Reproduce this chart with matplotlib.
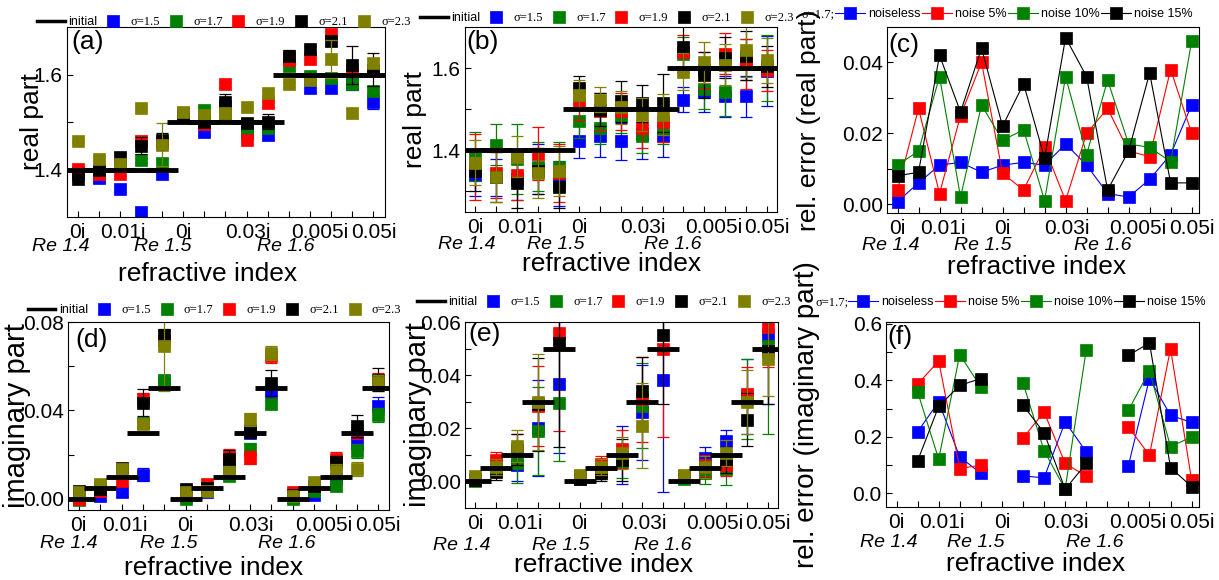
import numpy as np
import matplotlib.pyplot as plt

plt.rcParams['font.family'] = ['Liberation Sans', 'DejaVu Sans']
plt.rcParams['axes.linewidth'] = 0.8
plt.rcParams['legend.numpoints'] = 1

nan = np.nan
W, H = 1219, 580

# x positions: 3 real parts x 5 imaginary parts
x = list(range(1, 16))
xlabels = ['0i', '0.01i', '0i', '0.03i', '0.005i', '0.05i']
xlabel_pos = [1, 3.15, 6, 9.05, 12.45, 15]
re_labels = ['Re 1.4', 'Re 1.5', 'Re 1.6']

init_real = [1.4, 1.4, 1.4, 1.4, 1.4, 1.5, 1.5, 1.5, 1.5, 1.5, 1.6, 1.6, 1.6, 1.6, 1.6]
init_imag = [0, 0.005, 0.01, 0.03, 0.05, 0, 0.005, 0.01, 0.03, 0.05, 0, 0.005, 0.01, 0.03, 0.05]

sigma_names = ['σ=1.5', 'σ=1.7', 'σ=1.9', 'σ=2.1', 'σ=2.3']
sigma_colors = ['#0000ff', '#008000', '#ff0000', '#000000', '#808000']
noise_names = ['noiseless', 'noise 5%', 'noise 10%', 'noise 15%']
noise_colors = ['#0000ff', '#ff0000', '#008000', '#000000']

# (a) real part, small error bars
a_15 = [1.390, 1.382, 1.359, 1.310, 1.391, 1.511, 1.479, 1.533, 1.476, 1.472, 1.635, 1.572, 1.572, 1.580, 1.543]
a_17 = [1.395, 1.400, 1.410, 1.419, 1.413, 1.520, 1.526, 1.515, 1.483, 1.487, 1.618, 1.596, 1.593, 1.579, 1.565]
a_19 = [1.401, 1.390, 1.391, 1.460, 1.455, 1.520, 1.495, 1.579, 1.462, 1.540, 1.630, 1.632, 1.685, 1.610, 1.607]
a_21 = [1.380, 1.398, 1.426, 1.450, 1.462, 1.510, 1.500, 1.543, 1.497, 1.501, 1.640, 1.653, 1.671, 1.621, 1.610]
a_23 = [1.460, 1.423, 1.412, 1.530, 1.452, 1.522, 1.515, 1.518, 1.531, 1.561, 1.579, 1.589, 1.632, 1.518, 1.625]
a_15e = [0.005, 0.008, 0.006, 0.004, 0.006, 0.005, 0.006, 0.008, 0.006, 0.010, 0.012, 0.008, 0.008, 0.012, 0.015]
a_17e = [0.004, 0.005, 0.005, 0.006, 0.010, 0.005, 0.006, 0.006, 0.008, 0.008, 0.010, 0.008, 0.006, 0.010, 0.008]
a_19e = [0.004, 0.006, 0.004, 0.010, 0.012, 0.006, 0.005, 0.006, 0.006, 0.008, 0.010, 0.010, 0.006, 0.012, 0.010]
a_21e = [0.005, 0.008, 0.008, 0.018, 0.015, 0.004, 0.006, 0.015, 0.010, 0.015, 0.012, 0.008, 0.010, 0.040, 0.035]
a_23e = [0.003, 0.006, 0.006, 0.004, 0.045, 0.004, 0.006, 0.008, 0.005, 0.006, 0.005, 0.006, 0.040, 0.010, 0.008]

# (b) real part, large error bars
b_15 = [1.340, 1.335, 1.330, 1.355, 1.320, 1.422, 1.434, 1.422, 1.440, 1.434, 1.523, 1.543, 1.531, 1.531, 1.593]
b_17 = [1.385, 1.414, 1.380, 1.360, 1.360, 1.471, 1.455, 1.483, 1.434, 1.455, 1.635, 1.550, 1.543, 1.620, 1.600]
b_19 = [1.360, 1.345, 1.340, 1.392, 1.345, 1.515, 1.495, 1.495, 1.455, 1.470, 1.640, 1.595, 1.635, 1.610, 1.595]
b_21 = [1.350, 1.335, 1.320, 1.350, 1.310, 1.552, 1.499, 1.519, 1.515, 1.515, 1.651, 1.583, 1.625, 1.630, 1.605]
b_23 = [1.370, 1.335, 1.385, 1.345, 1.350, 1.535, 1.523, 1.505, 1.487, 1.487, 1.591, 1.614, 1.608, 1.643, 1.619]
b_15e = [0.050, 0.045, 0.050, 0.060, 0.055, 0.040, 0.050, 0.045, 0.060, 0.050, 0.030, 0.050, 0.050, 0.050, 0.085]
b_17e = [0.060, 0.050, 0.085, 0.060, 0.060, 0.040, 0.040, 0.040, 0.040, 0.040, 0.040, 0.050, 0.060, 0.050, 0.080]
b_19e = [0.080, 0.060, 0.060, 0.065, 0.070, 0.040, 0.045, 0.045, 0.050, 0.050, 0.040, 0.045, 0.050, 0.060, 0.050]
b_21e = [0.050, 0.060, 0.060, 0.055, 0.050, 0.030, 0.040, 0.050, 0.045, 0.070, 0.060, 0.055, 0.050, 0.060, 0.050]
b_23e = [0.055, 0.060, 0.050, 0.060, 0.060, 0.035, 0.030, 0.040, 0.040, 0.050, 0.045, 0.050, 0.050, 0.065, 0.055]

# (c) relative error of real part
c_0 = [0.0007, 0.006, 0.011, 0.0118, 0.009, 0.011, 0.0118, 0.011, 0.017, 0.011, 0.003, 0.002, 0.007, 0.014, 0.028]
c_5 = [0.004, 0.027, 0.003, 0.025, 0.040, 0.0087, 0.004, 0.016, 0.001, 0.020, 0.027, 0.015, 0.0134, 0.038, 0.020]
c_10 = [0.011, 0.015, 0.036, 0.002, 0.028, 0.018, 0.021, 0.001, 0.036, 0.014, 0.035, 0.017, 0.016, 0.012, 0.046]
c_15 = [0.008, 0.009, 0.042, 0.026, 0.044, 0.022, 0.034, 0.013, 0.047, 0.036, 0.004, 0.015, 0.037, 0.006, 0.006]

# (d) imaginary part, small error bars
d_15 = [0.001, 0.0015, 0.0033, 0.011, 0.0525, 0.0015, 0.003, 0.015, 0.030, 0.0487, 0.001, 0.002, 0.009, 0.0255, 0.042]
d_17 = [-0.0007, 0.005, 0.012, 0.0345, 0.054, 0.0, 0.005, 0.0105, 0.0225, 0.0427, 0.0, 0.0037, 0.006, 0.0217, 0.038]
d_19 = [0.0, 0.0037, 0.008, 0.045, 0.072, 0.0037, 0.0067, 0.0195, 0.0187, 0.0645, 0.003, 0.006, 0.018, 0.031, 0.053]
d_21 = [0.0037, 0.0045, 0.014, 0.0435, 0.074, 0.0045, 0.005, 0.018, 0.0307, 0.0525, 0.002, 0.006, 0.0165, 0.033, 0.054]
d_23 = [0.003, 0.0067, 0.0135, 0.034, 0.069, 0.003, 0.0037, 0.012, 0.036, 0.066, 0.0015, 0.0075, 0.0127, 0.0135, 0.053]
d_15e = [0.001, 0.002, 0.002, 0.003, 0.002, 0.001, 0.002, 0.003, 0.002, 0.003, 0.001, 0.002, 0.002, 0.003, 0.004]
d_17e = [0.001, 0.002, 0.002, 0.002, 0.002, 0.001, 0.002, 0.002, 0.003, 0.002, 0.001, 0.002, 0.002, 0.003, 0.003]
d_19e = [0.001, 0.002, 0.002, 0.003, 0.004, 0.001, 0.001, 0.003, 0.003, 0.003, 0.001, 0.002, 0.003, 0.004, 0.004]
d_21e = [0.001, 0.002, 0.002, 0.006, 0.003, 0.001, 0.002, 0.004, 0.003, 0.006, 0.001, 0.002, 0.003, 0.005, 0.005]
d_23e = [0.001, 0.002, 0.002, 0.002, 0.020, 0.001, 0.002, 0.003, 0.003, 0.003, 0.001, 0.002, 0.003, 0.003, 0.003]

# (e) imaginary part, large error bars
e_15 = [0.0005, 0.006, 0.006, 0.020, 0.0366, 0.002, 0.004, 0.010, 0.026, 0.038, 0.002, 0.0088, 0.0154, 0.032, 0.055]
e_17 = [0.0, 0.0048, 0.007, 0.019, 0.0297, 0.001, 0.004, 0.0072, 0.0285, 0.066, 0.001, 0.003, 0.0048, 0.031, 0.051]
e_19 = [0.001, 0.0079, 0.012, 0.0285, 0.056, 0.002, 0.0066, 0.0122, 0.031, 0.0497, 0.002, 0.006, 0.006, 0.0329, 0.058]
e_21 = [0.0005, 0.0035, 0.012, 0.029, 0.052, 0.001, 0.003, 0.008, 0.034, 0.055, 0.002, 0.0054, 0.008, 0.0233, 0.049]
e_23 = [0.0022, 0.0054, 0.0135, 0.030, 0.066, 0.0025, 0.0054, 0.0107, 0.021, 0.066, 0.0025, 0.0054, 0.0107, 0.030, 0.046]
e_15e = [0.001, 0.003, 0.006, 0.018, 0.026, 0.001, 0.003, 0.011, 0.018, 0.042, 0.001, 0.004, 0.004, 0.014, 0.026]
e_17e = [0.001, 0.003, 0.0075, 0.0165, 0.022, 0.001, 0.003, 0.006, 0.016, 0.004, 0.001, 0.004, 0.006, 0.015, 0.033]
e_19e = [0.001, 0.003, 0.006, 0.015, 0.037, 0.001, 0.003, 0.007, 0.016, 0.033, 0.001, 0.004, 0.004, 0.010, 0.015]
e_21e = [0.001, 0.003, 0.006, 0.0175, 0.039, 0.001, 0.003, 0.008, 0.013, 0.026, 0.001, 0.004, 0.005, 0.010, 0.020]
e_23e = [0.001, 0.003, 0.006, 0.018, 0.004, 0.001, 0.003, 0.006, 0.016, 0.004, 0.001, 0.004, 0.005, 0.012, 0.014]

# (f) relative error of imaginary part (undefined where imaginary part is 0)
f_0 = [nan, 0.218, 0.324, 0.129, 0.071, nan, 0.062, 0.055, 0.253, 0.147, nan, 0.098, 0.406, 0.276, 0.251]
f_5 = [nan, 0.386, 0.468, 0.088, 0.100, nan, 0.196, 0.288, 0.106, 0.061, nan, 0.235, 0.135, 0.512, 0.047]
f_10 = [nan, 0.359, 0.121, 0.491, 0.376, nan, 0.391, 0.151, 0.015, 0.508, nan, 0.294, 0.433, 0.165, 0.200]
f_15 = [nan, 0.115, 0.308, 0.382, 0.406, nan, 0.312, 0.214, 0.015, 0.106, nan, 0.488, 0.532, 0.091, 0.024]

fig = plt.figure(figsize=(W / 100, H / 100), dpi=100)


def new_axes(left, right, top, bottom):
    return fig.add_axes([left / W, 1 - bottom / H, (right - left) / W, (bottom - top) / H])


def frame(ax, letter, letter_xy, xmax, ylim, yticks, yticklabels, ylabel, ysize,
          ylab_x, xlab_xy, re_x, re_y):
    ax.set_xlim(0.5, xmax)
    ax.set_ylim(*ylim)
    ax.xaxis.remove_overlapping_locs = False
    ax.set_xticks(x, [''] * len(x))
    ax.set_xticks(xlabel_pos, xlabels, minor=True)
    ax.tick_params(axis='x', which='major', direction='in', length=4, width=0.8)
    ax.tick_params(axis='x', which='minor', length=0, labelsize=15, pad=4)
    ax.set_yticks(yticks, yticklabels)
    ax.tick_params(axis='y', direction='in', length=4, width=0.8, labelsize=15, pad=3)
    ax.set_ylabel(ylabel, fontsize=ysize)
    ax.yaxis.set_label_coords(ylab_x, 0.5)
    ax.set_xlabel('refractive index', fontsize=19)
    ax.xaxis.set_label_coords(*xlab_xy)
    for rx, rt in zip(re_x, re_labels):
        ax.text(rx, re_y, rt, transform=ax.get_xaxis_transform(), fontsize=14,
                style='italic', ha='center', va='center')
    ax.text(letter_xy[0], letter_xy[1], letter, transform=ax.transAxes, fontsize=19,
            ha='left', va='top')


def sigma_panel(ax, init, series, errors, legend_xy):
    ax.plot(x, init, ls='none', marker='_', ms=23, mew=3.5, color='k', label='initial', zorder=3)
    for vals, errs, c, name in zip(series, errors, sigma_colors, sigma_names):
        ax.plot(x, vals, ls='none', marker='s', ms=8.5, mew=0.5, color=c, label=name, zorder=2)
        ax.errorbar(x, vals, yerr=errs, fmt='none', ecolor=c, elinewidth=0.9,
                    capsize=4.5, capthick=0.9, zorder=2)
    leg = ax.legend(loc='center left', bbox_to_anchor=legend_xy, ncol=6, frameon=False,
                    borderpad=0, borderaxespad=0, handlelength=2.2, handletextpad=0.3,
                    columnspacing=0.15, prop={'size': 9})
    for t in leg.get_texts()[1:]:
        t.set_family(['Liberation Serif', 'DejaVu Serif'])
    line = leg.legend_handles[0]
    line.set_marker('None')
    line.set_linestyle('-')
    line.set_linewidth(2.5)


def noise_panel(ax, series, legend_xy):
    for vals, c, name in zip(series, noise_colors, noise_names):
        ax.plot(x, vals, '-s', color=c, lw=0.8, ms=8.5, mew=0.5, label=name)
    ax.legend(loc='center left', bbox_to_anchor=legend_xy, ncol=4, frameon=False,
              borderpad=0, borderaxespad=0, handlelength=2.4, handletextpad=0.25,
              columnspacing=0.1, prop={'size': 9})
    ax.text(legend_xy[0], legend_xy[1], 'σ=1.7;', transform=ax.transAxes, ha='right',
            va='center', fontsize=9, family=['Liberation Serif', 'DejaVu Serif'])


ax = new_axes(67, 385, 27, 217)
sigma_panel(ax, init_real, [a_15, a_17, a_19, a_21, a_23],
            [a_15e, a_17e, a_19e, a_21e, a_23e], (-0.094, 1.026))
frame(ax, '(a)', (0.015, 0.985), 15.55, (1.3, 1.7), [1.4, 1.5, 1.6], ['1.4', '', '1.6'],
      'real part', 19, -0.072, (0.443, -0.237), [0.2, 5.05, 10.86], -0.153)

ax = new_axes(465, 777, 27, 212)
sigma_panel(ax, init_real, [b_15, b_17, b_19, b_21, b_23],
            [b_15e, b_17e, b_19e, b_21e, b_23e], (-0.144, 1.049))
frame(ax, '(b)', (0.005, 0.985), 15.5, (1.25, 1.70), [1.3, 1.4, 1.5, 1.6], ['', '1.4', '', '1.6'],
      'real part', 19, -0.122, (0.471, -0.216), [0.57, 4.86, 10.5], -0.178)

ax = new_axes(887, 1199, 27, 213)
noise_panel(ax, [c_0, c_5, c_10, c_15], (-0.167, 1.07))
frame(ax, '(c)', (0.005, 0.968), 15.35, (-0.0025, 0.05), [0, 0.01, 0.02, 0.03, 0.04],
      ['0.00', '', '0.02', '', '0.04'], 'rel. error (real part)', 19, -0.212,
      (0.478, -0.226), [0.67, 5.05, 10.76], -0.177)

ax = new_axes(68, 389, 322, 510)
sigma_panel(ax, init_imag, [d_15, d_17, d_19, d_21, d_23],
            [d_15e, d_17e, d_19e, d_21e, d_23e], (-0.125, 1.064))
frame(ax, '(d)', (0.022, 0.968), 15.5, (-0.005, 0.08), [0, 0.02, 0.04, 0.06, 0.08],
      ['0.00', '', '0.04', '', '0.08'], 'imaginary part', 21, -0.115,
      (0.455, -0.245), [0.55, 5.2, 10.7], -0.18)

ax = new_axes(465, 778, 322, 508)
sigma_panel(ax, init_imag, [e_15, e_17, e_19, e_21, e_23],
            [e_15e, e_17e, e_19e, e_21e, e_23e], (-0.153, 1.108))
frame(ax, '(e)', (0.01, 1.0), 15.5, (-0.01, 0.06), [0, 0.01, 0.02, 0.03, 0.04, 0.05, 0.06],
      ['0.00', '', '0.02', '', '0.04', '', '0.06'], 'imaginary part', 21, -0.105,
      (0.444, -0.243), [0.33, 5.1, 10.0], -0.2)

ax = new_axes(886, 1199, 322, 507)
noise_panel(ax, [f_0, f_5, f_10, f_15], (-0.121, 1.108))
frame(ax, '(f)', (0.003, 0.984), 15.35, (-0.048, 0.606), [0, 0.1, 0.2, 0.3, 0.4, 0.5, 0.6],
      ['0.0', '', '0.2', '', '0.4', '', '0.6'], 'rel. error (imaginary part)', 20, -0.211,
      (0.479, -0.243), [0.62, 4.76, 10.4], -0.19)

fig.savefig('out.png', dpi=100)
